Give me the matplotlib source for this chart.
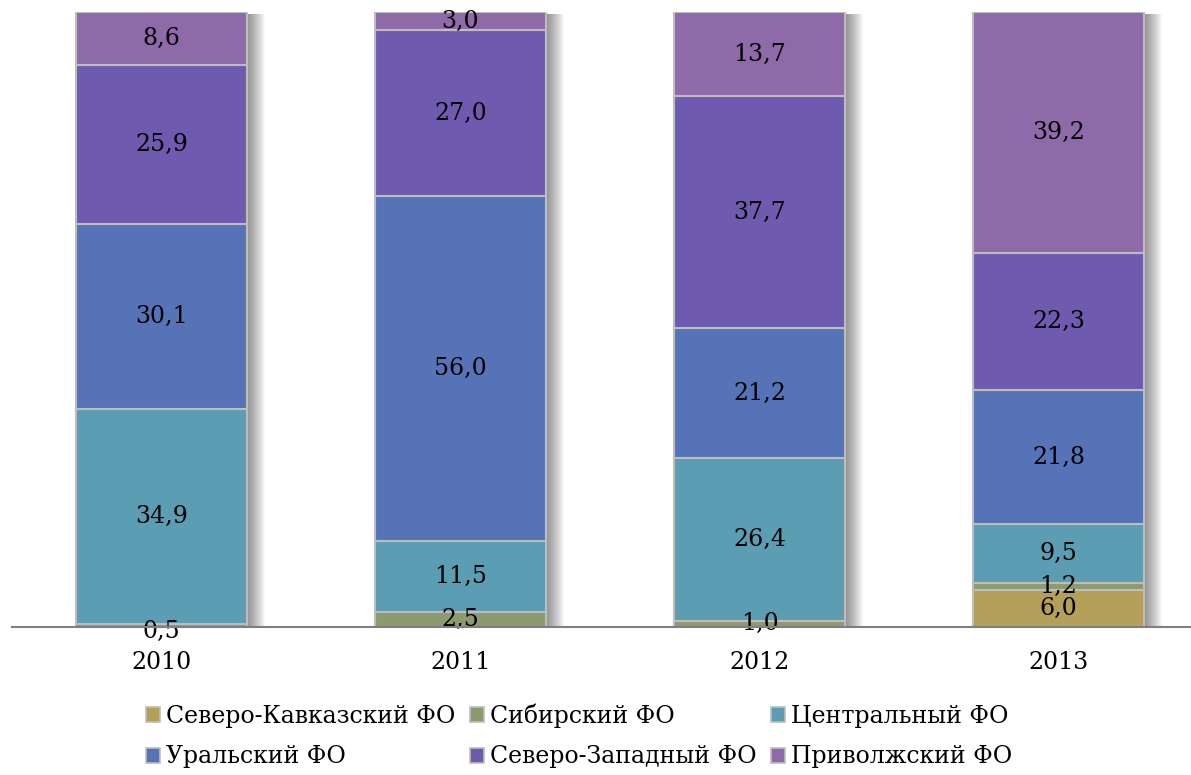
import matplotlib.pyplot as plt
import matplotlib.transforms as mtrans
from matplotlib.patches import Patch
import numpy as np

plt.rcParams['font.family'] = ['DejaVu Serif']

years = ['2010', '2011', '2012', '2013']
series_names = ['Северо-Кавказский ФО', 'Сибирский ФО', 'Центральный ФО',
                'Уральский ФО', 'Северо-Западный ФО', 'Приволжский ФО']
sev_kavkaz = [0.0, 0.0, 0.0, 6.0]
sibir = [0.5, 2.5, 1.0, 1.2]
centr = [34.9, 11.5, 26.4, 9.5]
ural = [30.1, 56.0, 21.2, 21.8]
sev_zapad = [25.9, 27.0, 37.7, 22.3]
privolzh = [8.6, 3.0, 13.7, 39.2]
colores = ['#B5A05A', '#8C9B6E', '#5B9DB2', '#5773B8', '#6E5BB0', '#8F6AA8']

datos = [sev_kavkaz, sibir, centr, ural, sev_zapad, privolzh]

fig = plt.figure(figsize=(11.91, 7.75), dpi=100)
ax = fig.add_axes([12 / 1191, 148 / 775, 1179 / 1191, 615 / 775])

x = np.arange(len(years))
ancho = 0.57
total = np.sum(datos, axis=0)

# sombra difusa a la derecha de cada barra
for k in range(1, 19):
    tr = mtrans.offset_copy(ax.transData, fig=fig, x=k, y=-2, units='dots')
    ax.bar(x, total, ancho, color='black', alpha=0.028, linewidth=0,
           transform=tr, zorder=1)

base = np.zeros(len(years))
for nombre, vals, col in zip(series_names, datos, colores):
    vals = np.array(vals)
    ax.bar(x, vals, ancho, bottom=base, color=col, edgecolor='#BDBDBD',
           linewidth=1.5, zorder=3)
    for xi, v, b0 in zip(x, vals, base):
        if v > 0:
            # la etiqueta de 0,5 queda un poco por debajo del eje
            yy = b0 + v / 2 if v >= 1 else b0 - 0.7
            ax.text(xi, yy, f'{v:.1f}'.replace('.', ','), ha='center', va='center',
                    fontsize=17, color='black', zorder=5)
    base = base + vals

ax.set_xlim(-0.5, 3.5 - 17 / 299)
ax.set_ylim(0, 100)
ax.set_xticks(x)
ax.set_xticklabels(years, fontsize=17)
ax.tick_params(axis='x', length=0, pad=17)
ax.set_yticks([])
for s in ['top', 'right', 'left']:
    ax.spines[s].set_visible(False)
ax.spines['bottom'].set_color('#7f7f7f')
ax.spines['bottom'].set_linewidth(1.5)
ax.spines['bottom'].set_zorder(6)

orden = [0, 3, 1, 4, 2, 5]
proxies = [Patch(facecolor=c, edgecolor='#BDBDBD', linewidth=1.2) for c in colores]
fig.legend([proxies[i] for i in orden], [series_names[i] for i in orden], ncol=3,
           loc='upper left', bbox_to_anchor=(125 / 1191, 1 - 682 / 775), frameon=False,
           fontsize=17, handlelength=0.6, handleheight=0.6, handletextpad=0.25,
           columnspacing=0.6, labelspacing=0.75)

fig.savefig('out.png', dpi=100)
